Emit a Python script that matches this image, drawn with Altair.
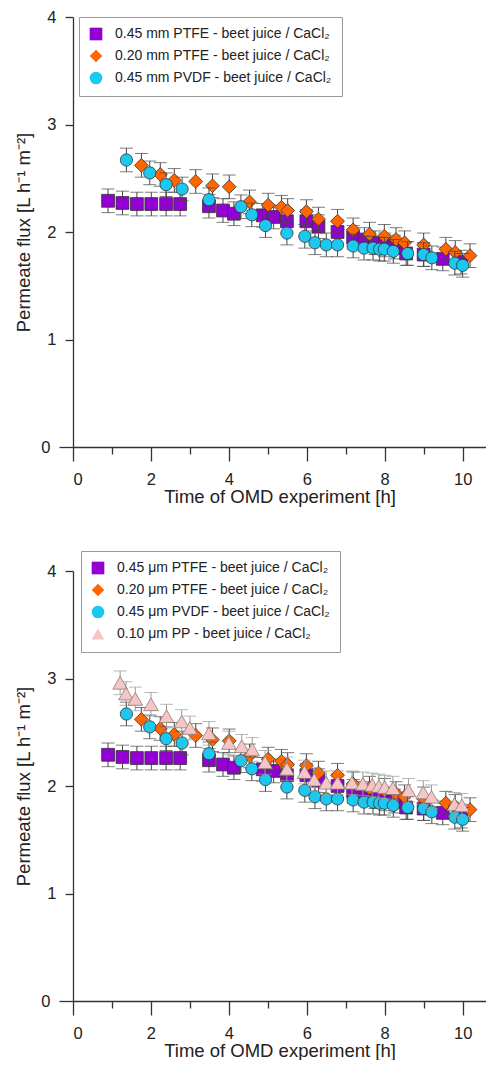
import altair as alt
import pandas as pd

# ---------------- data ----------------
T_PTFE045 = [0.90, 1.27, 1.64, 2.01, 2.39, 2.75, 3.49, 3.85, 4.13, 4.87, 5.15, 5.49,
             5.99, 6.30, 6.79, 7.19, 7.48, 7.75, 8.00, 8.25, 8.55, 9.00, 9.49, 9.96]
V_PTFE045 = [2.29, 2.27, 2.26, 2.26, 2.26, 2.26, 2.24, 2.20, 2.17, 2.155, 2.14, 2.10,
             2.10, 2.05, 2.00, 1.95, 1.93, 1.90, 1.88, 1.86, 1.80, 1.79, 1.75, 1.72]

T_PTFE020 = [1.755, 2.24, 2.60, 3.15, 3.58, 4.01, 4.53, 5.01, 5.35, 5.51, 5.99, 6.30,
             6.79, 7.19, 7.61, 7.99, 8.29, 8.51, 9.00, 9.57, 9.81, 10.19]
V_PTFE020 = [2.62, 2.535, 2.48, 2.47, 2.43, 2.42, 2.28, 2.25, 2.23, 2.20, 2.19, 2.12,
             2.10, 2.02, 1.98, 1.96, 1.93, 1.90, 1.88, 1.84, 1.81, 1.78]

T_PVDF045 = [1.37, 1.97, 2.39, 2.80, 3.49, 4.31, 4.59, 4.94, 5.49, 5.95, 6.21, 6.50,
             6.79, 7.19, 7.47, 7.70, 7.87, 7.99, 8.22, 8.59, 9.00, 9.21, 9.80, 10.00]
V_PVDF045 = [2.67, 2.55, 2.44, 2.40, 2.30, 2.235, 2.16, 2.06, 1.99, 1.96, 1.90, 1.88,
             1.88, 1.87, 1.85, 1.85, 1.84, 1.84, 1.82, 1.80, 1.79, 1.76, 1.71, 1.69]

T_PP010 = [1.21, 1.36, 1.60, 2.00, 2.40, 2.79, 3.00, 3.49, 4.00, 4.33, 4.60, 4.93,
           5.49, 5.94, 6.19, 6.50, 6.79, 7.16, 7.44, 7.68, 7.85, 8.00, 8.21, 8.61,
           8.99, 9.20, 9.79, 9.98]
V_PP010 = [2.96, 2.86, 2.81, 2.76, 2.65, 2.60, 2.54, 2.49, 2.40, 2.37, 2.34, 2.22,
           2.16, 2.13, 2.06, 2.03, 2.03, 2.03, 2.02, 2.01, 2.00, 1.99, 1.98, 1.96,
           1.94, 1.90, 1.83, 1.82]

ERR = 0.11

LABELS_TOP = ["0.45 mm PTFE - beet juice / CaCl₂",
              "0.20 mm PTFE - beet juice / CaCl₂",
              "0.45 mm PVDF - beet juice / CaCl₂"]
LABELS_BOTTOM = ["0.45 μm PTFE - beet juice / CaCl₂",
                 "0.20 μm PTFE - beet juice / CaCl₂",
                 "0.45 μm PVDF - beet juice / CaCl₂",
                 "0.10 μm PP - beet juice / CaCl₂"]

X_TICKS = [0, 1, 2, 3, 4, 5, 6, 7, 8, 9, 10]
Y_TICKS = [0, 0.5, 1, 1.5, 2, 2.5, 3, 3.5, 4]

# ---------------- styles ----------------
FILLS = ["#9400D3", "#FF6600", "#1CC8F0", "#F6C6C6"]
SHAPES = ["square", "diamond", "circle", "triangle-up"]
SIZES = [165, 190, 150, 215]
STROKES = ["#333333", "#333333", "#333333", "#8a7a7a"]
ERRC = ["#444444", "#444444", "#444444", "#9a9a9a"]
FONT = "Liberation Sans"

SERIES = [(T_PTFE045, V_PTFE045), (T_PTFE020, V_PTFE020),
          (T_PVDF045, V_PVDF045), (T_PP010, V_PP010)]

XMAX = 10.6
W = 413
H = 430


def panel(labels, legend_x, legend_y):
    n = len(labels)
    rows = []
    for i in range(n):
        ts, vs = SERIES[i]
        for t, v in zip(ts, vs):
            rows.append({"series": labels[i], "t": t, "v": v,
                         "lo": v - ERR, "hi": v + ERR})
    df = pd.DataFrame(rows)

    xaxis = alt.Axis(values=X_TICKS, format="d",
                     tickSize={"condition": {"test": "datum.value % 2 === 0", "value": 14}, "value": 7},
                     labelExpr="datum.value % 2 === 0 ? datum.label : ''",
                     labelOverlap=False, labelPadding=10, labelFontSize=16.5,
                     labelFont=FONT, labelColor="#222",
                     title="Time of OMD experiment [h]", titleFont=FONT,
                     titleFontSize=18.5, titleFontWeight="normal", titleColor="#222",
                     titlePadding=0, grid=False, domainColor="#333", tickColor="#333",
                     domainWidth=1.3, tickWidth=1.3)
    yaxis = alt.Axis(values=Y_TICKS, format="d",
                     tickSize={"condition": {"test": "datum.value === 0", "value": 14}, "value": 8},
                     labelExpr="datum.value % 1 === 0 ? datum.label : ''",
                     labelOverlap=False, labelPadding=9, labelFontSize=16.5,
                     labelFont=FONT, labelColor="#222",
                     title="Permeate flux [L h⁻¹ m⁻²]", titleFont=FONT,
                     titleFontSize=18.5, titleFontWeight="normal", titleColor="#222",
                     titlePadding=7, grid=False, domainColor="#333", tickColor="#333",
                     domainWidth=1.3, tickWidth=1.3)
    xs = alt.Scale(domain=[0, XMAX], nice=False, zero=False)
    ys = alt.Scale(domain=[0, 4], nice=False)

    def X():
        return alt.X("t:Q", scale=xs, axis=xaxis)

    def Y(f):
        return alt.Y(f"{f}:Q", scale=ys, axis=yaxis)

    leg = alt.Legend(orient="none", legendX=legend_x, legendY=legend_y, title=None,
                     labelFont=FONT, labelFontSize=14, labelColor="#222",
                     symbolSize=160, symbolStrokeWidth=0.8, symbolStrokeColor="#333",
                     strokeColor="#999", fillColor="white", padding=10,
                     rowPadding=6, labelOffset=12, labelLimit=400)
    fill = alt.Fill("series:N", scale=alt.Scale(domain=labels, range=FILLS[:n]), legend=leg)
    shape = alt.Shape("series:N", scale=alt.Scale(domain=labels, range=SHAPES[:n]), legend=leg)

    layers = []
    for i, lab in enumerate(labels):
        base = alt.Chart(df).transform_filter(alt.datum.series == lab)
        layers.append(base.mark_rule(color=ERRC[i], strokeWidth=1).encode(
            x=X(), y=Y("lo"), y2="hi:Q"))
        layers.append(base.mark_tick(orient="horizontal", size=13, thickness=1,
                                     color=ERRC[i]).encode(x=X(), y=Y("lo")))
        layers.append(base.mark_tick(orient="horizontal", size=13, thickness=1,
                                     color=ERRC[i]).encode(x=X(), y=Y("hi")))
        layers.append(base.mark_point(filled=True, size=SIZES[i], stroke=STROKES[i],
                                      strokeWidth=0.8, opacity=1).encode(
            x=X(), y=Y("v"), fill=fill, shape=shape))
    return alt.layer(*layers).properties(width=W, height=H)


top = panel(LABELS_TOP, 6, 0)
bottom = panel(LABELS_BOTTOM, 8, -20)

chart = alt.vconcat(top, bottom, spacing=44).resolve_scale(
    fill="independent", shape="independent").properties(
    padding={"left": 6, "top": 1, "right": 0, "bottom": 0}
).configure_view(stroke=None)

chart.save("out.html", embed_options={"renderer": "svg", "actions": False})
